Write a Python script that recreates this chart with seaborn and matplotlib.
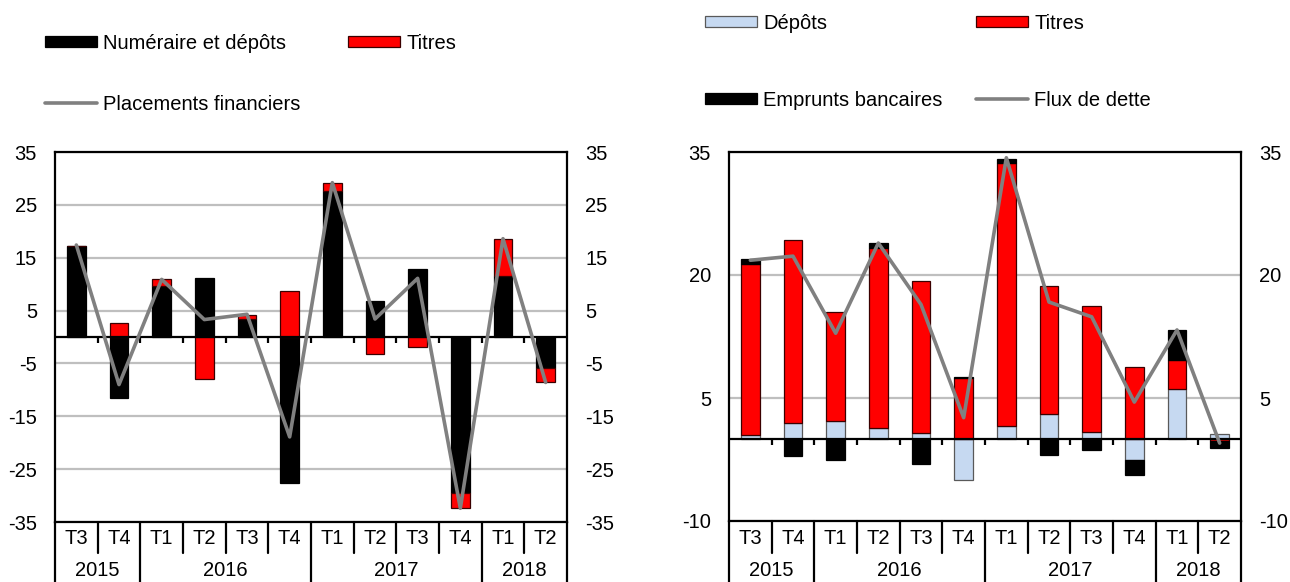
import numpy as np
import pandas as pd
import matplotlib
matplotlib.use("Agg")
import matplotlib.pyplot as plt
import matplotlib.transforms as mtransforms
from matplotlib.lines import Line2D
import seaborn as sns

# ---------------- data ----------------
quarters = ["T3", "T4", "T1", "T2", "T3", "T4", "T1", "T2", "T3", "T4", "T1", "T2"]
years = ["2015", "2015", "2016", "2016", "2016", "2016",
         "2017", "2017", "2017", "2017", "2018", "2018"]

# left chart
numeraire_depots = [17.2, -11.6, 9.6, 11.2, 3.4, -27.6, 27.6, 6.8, 12.9, -29.6, 11.5, -5.9]
titres_left = [0.0, 2.6, 1.3, -7.9, 0.8, 8.7, 1.5, -3.3, -1.8, -2.8, 7.0, -2.7]
placements_financiers = [17.4, -9.0, 10.9, 3.3, 4.3, -18.9, 29.2, 3.4, 11.1, -32.4, 18.6, -8.6]

# right chart
depots = [0.5, 2.0, 2.2, 1.4, 0.7, -5.0, 1.6, 3.1, 0.9, -2.5, 6.1, 0.6]
titres_right = [20.9, 22.3, 13.3, 21.9, 18.6, 7.4, 32.1, 15.5, 15.3, 8.8, 3.5, -0.3]
emprunts_bancaires = [0.5, -2.1, -2.6, 0.6, -3.0, 0.15, 0.5, -1.9, -1.3, -1.9, 3.7, -0.8]
flux_dette = [21.8, 22.3, 12.9, 23.9, 16.4, 2.6, 34.3, 16.7, 14.9, 4.5, 13.3, -0.5]

left_labels = ["Numéraire et dépôts", "Titres", "Placements financiers"]
right_labels = ["Dépôts", "Titres", "Emprunts bancaires", "Flux de dette"]

# ---------------- style ----------------
sns.set_theme(style="white")
plt.rcParams['font.family'] = ['Liberation Sans', 'DejaVu Sans']
plt.rcParams['axes.unicode_minus'] = False
plt.rcParams['text.color'] = 'black'
plt.rcParams['legend.labelcolor'] = 'black'
FS = 14.5
RED = "#FF0000"
BLUE = "#C6D9F1"
BLACK = "#000000"
GREY = "#808080"
GRID = "#BFBFBF"

W, H = 1290, 582
fig = plt.figure(figsize=(W / 100, H / 100), dpi=100)
axL = fig.add_axes([55 / W, 1 - 522 / H, 512 / W, 370 / H])
axR = fig.add_axes([729 / W, 1 - 521 / H, 512 / W, 369 / H])

n = len(quarters)
cats = [f"{y} {q}" for y, q in zip(years, quarters)]


def stack_bottoms(series_list):
    pos = np.zeros(n)
    neg = np.zeros(n)
    bottoms = []
    for s in series_list:
        s = np.asarray(s, dtype=float)
        bottoms.append(np.where(s >= 0, pos, neg))
        pos = pos + np.clip(s, 0, None)
        neg = neg + np.clip(s, None, 0)
    return bottoms


def draw_panel(ax, series, colors, edges, line_vals, ylim, yticks):
    bottoms = stack_bottoms(series)
    bar_handles = []
    for s, b, c, e in zip(series, bottoms, colors, edges):
        df = pd.DataFrame({"cat": cats, "val": s})
        sns.barplot(data=df, x="cat", y="val", ax=ax, color=c, saturation=1,
                    errorbar=None, width=0.43, bottom=b, edgecolor=e,
                    linewidth=0.9)
        bar_handles.append(ax.containers[-1])
    sns.lineplot(x=np.arange(n), y=line_vals, ax=ax, color=GREY,
                 linewidth=2.6, sort=False, zorder=4)
    line_handle = ax.lines[-1]

    ax.set_xlim(-0.5, n - 0.5)
    ax.set_ylim(*ylim)
    ax.set_yticks(yticks)
    ax.set_xlabel("")
    ax.set_ylabel("")
    ax.set_xticks([])
    ax.set_axisbelow(True)
    ax.yaxis.grid(True, color=GRID, linewidth=1.6)
    ax.xaxis.grid(False)
    ax.tick_params(axis="y", length=0, pad=13, labelsize=FS,
                   labelleft=True, labelright=True, colors="black")
    for sp in ax.spines.values():
        sp.set_visible(True)
        sp.set_color("black")
        sp.set_linewidth(1.6)

    # zero line + small ticks between categories
    ax.axhline(0, color="black", linewidth=1.6, zorder=3)
    bbox = ax.get_window_extent()
    d = 6 * (ylim[1] - ylim[0]) / bbox.height
    ax.vlines(np.arange(n - 1) + 0.5, 0, -d, colors="black", linewidth=1.6, zorder=3)

    # category table below the axes
    trans = mtransforms.blended_transform_factory(ax.transData, fig.transFigure)
    y0 = ax.get_position().y0
    for i, q in enumerate(quarters):
        ax.text(i, 1 - 539 / H, q, transform=trans, ha="center", va="center",
                fontsize=FS, color="black")
    for b in range(n + 1):
        is_year = b == 0 or b == n or years[b] != years[b - 1]
        y_end = 0.0 if is_year else 1 - 553 / H
        ax.add_line(Line2D([b - 0.5, b - 0.5], [y0, y_end], transform=trans,
                           color="black", linewidth=1.6, clip_on=False))
    start = 0
    for b in range(1, n + 1):
        if b == n or years[b] != years[b - 1]:
            ax.text((start + b - 1) / 2, 1 - 571 / H, years[start], transform=trans,
                    ha="center", va="center", fontsize=FS, color="black")
            start = b
    ax.set_xlim(-0.5, n - 0.5)
    ax.set_ylim(*ylim)
    return bar_handles, line_handle


# left panel
barsL, lineL = draw_panel(axL, [numeraire_depots, titres_left], [BLACK, RED],
                          [BLACK, "#3A0000"], placements_financiers,
                          (-35, 35), np.arange(-35, 36, 10))
axL.legend([barsL[0], lineL, barsL[1]],
           [left_labels[0], left_labels[2], left_labels[1]],
           ncol=2, loc="upper left", bbox_to_anchor=(45 / W, 1 - 34 / H),
           bbox_transform=fig.transFigure, frameon=False, fontsize=FS,
           handlelength=2.6, handleheight=0.45, handletextpad=0.3,
           labelspacing=2.07, columnspacing=2.34, borderpad=0, borderaxespad=0,
           labelcolor="black")

# right panel
barsR, lineR = draw_panel(axR, [depots, titres_right, emprunts_bancaires],
                          [BLUE, RED, BLACK], ["#595959", "#3A0000", BLACK],
                          flux_dette, (-10, 35), [-10, 5, 20, 35])
axR.legend([barsR[0], barsR[2], barsR[1], lineR],
           [right_labels[0], right_labels[2], right_labels[1], right_labels[3]],
           ncol=2, loc="upper left", bbox_to_anchor=(705 / W, 1 - 14 / H),
           bbox_transform=fig.transFigure, frameon=False, fontsize=FS,
           handlelength=2.6, handleheight=0.45, handletextpad=0.3,
           labelspacing=2.86, columnspacing=1.65, borderpad=0, borderaxespad=0,
           labelcolor="black")

fig.savefig("out.png", dpi=100)
